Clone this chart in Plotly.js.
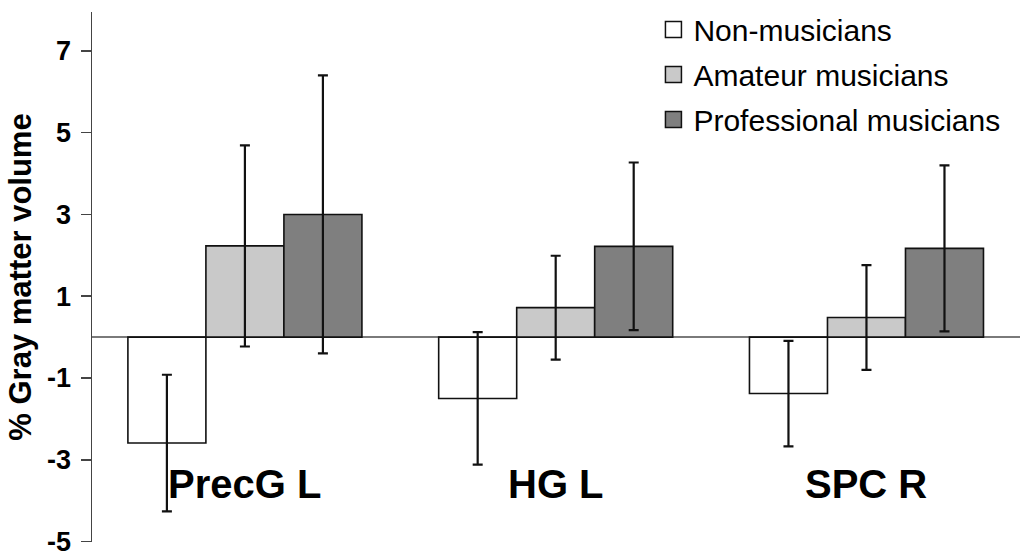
<!DOCTYPE html>
<html>
<head>
<meta charset="utf-8">
<script src="https://cdn.plot.ly/plotly-3.0.1.min.js"></script>
<style>
  html, body { margin: 0; padding: 0; background: #fff; }
  #chart { width: 1024px; height: 559px; }
</style>
</head>
<body>
<div id="chart"></div>
<script>
// ---- data ----
const categories = ["PrecG L", "HG L", "SPC R"];
const groupNames = ["Non-musicians", "Amateur musicians", "Professional musicians"];
const nonMusicians   = [-2.59, -1.50, -1.38];
const nonMusiciansSE = [1.67, 1.62, 1.29];
const amateur        = [2.23, 0.72, 0.48];
const amateurSE      = [2.46, 1.27, 1.28];
const professional   = [3.00, 2.22, 2.17];
const professionalSE = [3.40, 2.05, 2.03];
const yTickVals = [7, 5, 3, 1, -1, -3, -5];
const yTickText = ["7", "5", "3", "1", "-1", "-3", "-5"];
const yTitle = "% Gray matter volume";

const FONT = "Liberation Sans, Arial, Helvetica, sans-serif";
const fills = ["#ffffff", "#c9c9c9", "#7f7f7f"];
const seriesVals = [nonMusicians, amateur, professional];
const seriesSE = [nonMusiciansSE, amateurSE, professionalSE];

const traces = [];
seriesVals.forEach((vals, i) => {
  traces.push({
    type: "bar",
    x: categories,
    y: vals,
    name: groupNames[i],
    showlegend: false,
    marker: { color: fills[i], line: { color: "#111", width: 1.6 } },
    error_y: { type: "data", array: seriesSE[i], symmetric: true,
               color: "#111", thickness: 2.2, width: 5 },
    hoverinfo: "skip"
  });
});
// legend entries (square swatches)
groupNames.forEach((nm, i) => {
  traces.push({
    type: "scatter", mode: "markers",
    x: [categories[0]], y: [null],
    name: nm, legendgroup: "g" + i,
    marker: { symbol: "square", size: 16, color: fills[i],
              line: { color: "#111", width: 1.5 } },
    hoverinfo: "skip"
  });
});

const annotations = categories.map(c => ({
  x: c, y: -3.58, xref: "x", yref: "y",
  text: c, showarrow: false, xanchor: "center", yanchor: "middle",
  font: { family: FONT, size: 40, color: "#000", weight: "bold" }
}));

const layout = {
  width: 1024, height: 559,
  margin: { l: 92, r: 4, t: 5, b: 17 },
  paper_bgcolor: "#fff", plot_bgcolor: "#fff",
  barmode: "group", bargap: 0.247, bargroupgap: 0,
  showlegend: true,
  legend: {
    x: 0.605, y: 1.016, xanchor: "left", yanchor: "top",
    bgcolor: "rgba(0,0,0,0)", borderwidth: 0,
    font: { family: FONT, size: 30, color: "#000" },
    tracegroupgap: 3, itemwidth: 30
  },
  xaxis: {
    range: [-0.492, 2.494], showticklabels: false, ticks: "",
    showline: false, showgrid: false, zeroline: false, fixedrange: true
  },
  yaxis: {
    range: [-5.01, 7.95], tickvals: yTickVals, ticktext: yTickText,
    ticks: "outside", ticklen: 10, tickwidth: 1.5, tickcolor: "#444",
    ticklabelstandoff: 4, ticklabeloverflow: "allow",
    showline: true, linecolor: "#444", linewidth: 1.5,
    showgrid: false, zeroline: true, zerolinecolor: "#7a7a7a", zerolinewidth: 1.5,
    tickfont: { family: FONT, size: 27, color: "#000", weight: "bold" },
    title: { text: yTitle, font: { family: FONT, size: 31, color: "#000", weight: "bold" }, standoff: 6 },
    fixedrange: true
  },
  annotations: annotations
};

Plotly.newPlot("chart", traces, layout, { displayModeBar: false, staticPlot: true });
</script>
</body>
</html>
